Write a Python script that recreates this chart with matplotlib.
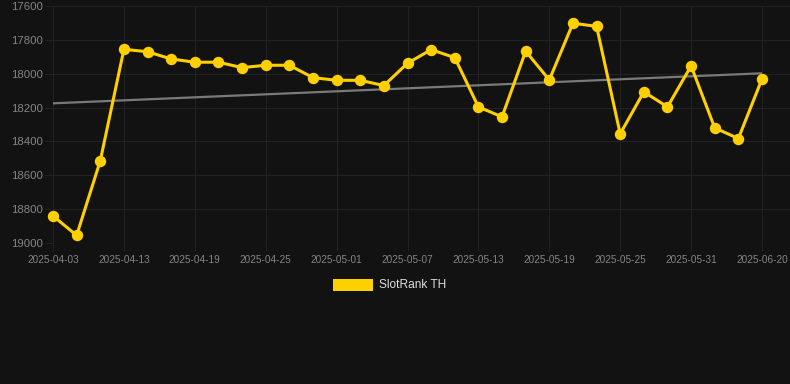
import matplotlib
matplotlib.use("Agg")
import matplotlib.pyplot as plt
import numpy as np
from matplotlib.patches import Rectangle

dates = ["2025-04-03", "2025-04-07", "2025-04-10", "2025-04-13", "2025-04-15", "2025-04-17",
         "2025-04-19", "2025-04-21", "2025-04-23", "2025-04-25", "2025-04-27", "2025-04-29",
         "2025-05-01", "2025-05-03", "2025-05-05", "2025-05-07", "2025-05-09", "2025-05-11",
         "2025-05-13", "2025-05-15", "2025-05-17", "2025-05-19", "2025-05-21", "2025-05-23",
         "2025-05-25", "2025-05-27", "2025-05-29", "2025-05-31", "2025-06-03", "2025-06-07",
         "2025-06-20"]
rank = [18840, 18955, 18515, 17856, 17870, 17913, 17932, 17932, 17964, 17950, 17950, 18023,
        18039, 18039, 18070, 17938, 17858, 17905, 18196, 18255, 17867, 18037, 17702, 17720,
        18355, 18107, 18196, 17954, 18320, 18383, 18031]
yticks = [17600, 17800, 18000, 18200, 18400, 18600, 18800, 19000]
series_name = "SlotRank TH"

BG = "#121212"
GRID = "#222222"
GOLD = "#FFD000"
TICKC = "#858585"

W, H = 790, 384
fig = plt.figure(figsize=(W / 100, H / 100), dpi=100, facecolor=BG)
ax = fig.add_axes([53 / W, (H - 243) / H, (W - 53) / W, (243 - 6) / H], facecolor=BG)

x = np.arange(len(rank))
ppi = 709 / 30
ax.set_xlim(0, (W - 53) / ppi)
ax.set_ylim(19000, 17600)

# trend line
coef = np.polyfit(x, rank, 1)
ax.plot([x[0], x[-1]], np.polyval(coef, [x[0], x[-1]]), color="#7a7a7a", lw=1.6, zorder=2,
        solid_capstyle="butt")

ax.plot(x, rank, color=GOLD, lw=2.2, marker="o", ms=7.2, markerfacecolor=GOLD,
        markeredgecolor=GOLD, zorder=3, clip_on=False)

label_idx = list(range(0, 28, 3)) + [len(dates) - 1]
ax.set_xticks(label_idx)
ax.set_xticklabels([dates[i] for i in label_idx], fontsize=7.2, color=TICKC,
                   family="Liberation Sans")
ax.set_yticks(yticks)
ax.set_yticklabels([str(v) for v in yticks], fontsize=8.2, color=TICKC,
                   family="Liberation Sans")
ax.tick_params(axis="x", length=5.8, width=0.8, color=GRID, pad=3)
ax.tick_params(axis="y", length=5.8, width=0.8, color=GRID, pad=1.5)
ax.grid(True, color=GRID, lw=0.8)
ax.set_axisbelow(True)
for s in ax.spines.values():
    s.set_visible(False)

# legend
fig.patches.append(Rectangle((333 / W, 1 - 291 / H), 40 / W, 12 / H, transform=fig.transFigure,
                             facecolor=GOLD, edgecolor="none"))
fig.text(379 / W, 1 - 285.5 / H, series_name, color="#dddddd", fontsize=8.6,
         family="Liberation Sans", va="center", ha="left")

fig.savefig("out.png", dpi=100, facecolor=BG)
